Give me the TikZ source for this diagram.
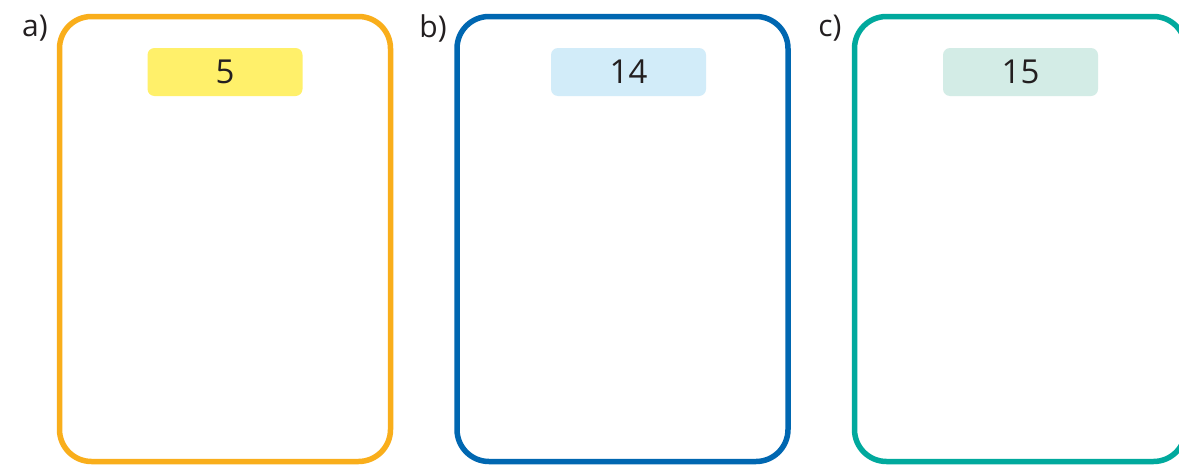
\documentclass[tikz,border=0pt]{standalone}
\usepackage{fontspec}
\setmainfont{Open Sans}
\definecolor{corange}{HTML}{F9AE1B}
\definecolor{cyellow}{HTML}{FFF06A}
\definecolor{cblue}{HTML}{0067B1}
\definecolor{clblue}{HTML}{D2ECF9}
\definecolor{cteal}{HTML}{00A99D}
\definecolor{clteal}{HTML}{D3ECE6}
\definecolor{ctext}{HTML}{231F20}
\begin{document}
\begin{tikzpicture}[x=1pt,y=-1pt,
  card/.style={draw=#1,line width=5.5pt,rounded corners=32pt,minimum width=331pt,minimum height=445pt,inner sep=0pt},
  numbox/.style={fill=#1,rounded corners=7pt,minimum width=155pt,minimum height=48pt,inner sep=0pt,text=ctext,font=\fontsize{33}{33}\selectfont},
  letter/.style={text=ctext,font=\fontsize{30}{30}\selectfont,inner sep=0pt}]
\useasboundingbox[fill=white] (0,0) rectangle (1179,466);
\begin{scope}
\clip (0,0) rectangle (1179,466);
\node[card=corange] (A) at (225,239) {};
\node[card=cblue] (B) at (622.5,239) {};
\node[card=cteal] (C) at (1020,239) {};
\end{scope}
\node[numbox=cyellow] (na) at (225,72) {5};
\node[numbox=clblue] (nb) at (628.5,72) {14};
\node[numbox=clteal] (nc) at (1020.5,72) {15};
\node[letter] (la) at (35,28) {a)};
\node[letter] (lb) at (433,28) {b)};
\node[letter] (lc) at (830,28) {c)};
\end{tikzpicture}
\end{document}
